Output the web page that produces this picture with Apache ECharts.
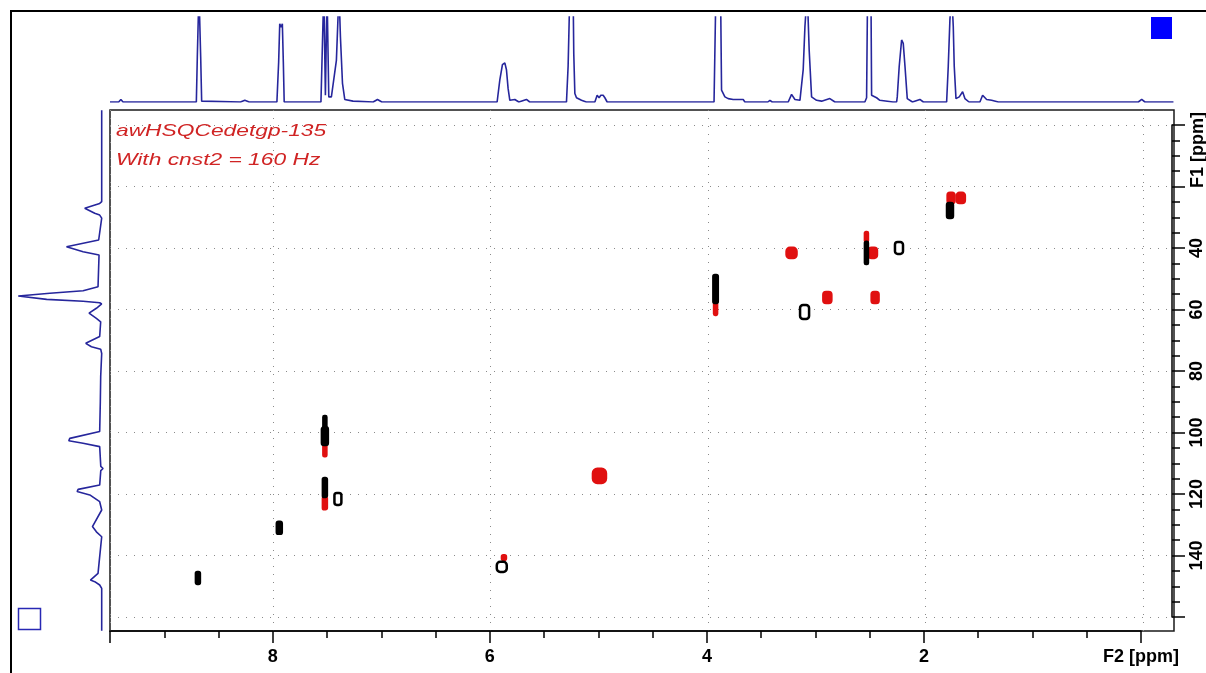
<!DOCTYPE html>
<html>
<head>
<meta charset="utf-8">
<script src="https://cdn.jsdelivr.net/npm/echarts@6/dist/echarts.min.js"></script>
<style>
html,body{margin:0;padding:0;background:#fff;}
#chart{width:1206px;height:673px;}
</style>
</head>
<body>
<div id="chart"></div>
<script>
// ---------- data ----------
// 2D cross peaks: [F2 ppm, F1 ppm, F2 extent (ppm), F1 extent (ppm)]
const positivePeaks = [
  [8.69, 147.3, 0.037, 3.9],
  [7.94, 131.0, 0.046, 3.9],
  [7.52, 99.3, 0.028, 9.4],
  [7.52, 101.2, 0.055, 5.8],
  [7.52, 117.9, 0.037, 6.2],
  [7.40, 121.6, 0.064, 3.9],
  [5.89, 143.7, 0.092, 3.3],
  [3.92, 53.3, 0.041, 9.1],
  [3.10, 60.8, 0.083, 4.6],
  [2.53, 41.6, 0.028, 7.2],
  [2.23, 40.0, 0.074, 3.9],
  [1.76, 27.8, 0.055, 4.9]
];
const negativePeaks = [
  [7.52, 105.9, 0.028, 3.6],
  [7.52, 123.0, 0.037, 3.9],
  [4.99, 114.1, 0.120, 4.6],
  [5.87, 140.7, 0.037, 1.5],
  [3.92, 59.8, 0.028, 3.9],
  [3.22, 41.6, 0.092, 3.3],
  [2.89, 56.1, 0.074, 3.6],
  [2.45, 56.1, 0.064, 3.6],
  [2.53, 36.4, 0.028, 3.2],
  [2.47, 41.6, 0.074, 3.3],
  [1.75, 23.7, 0.064, 3.3],
  [1.66, 23.7, 0.074, 3.3]
];
// 1H projection (top): [ppm, intensity]
const protonSpectrum = [
  [9.50,0],[9.42,0],[9.40,3],[9.38,0],[8.90,0],[8.706,0],[8.697,53],[8.682,130],[8.666,53],[8.657,1],
  [8.30,0],[8.26,2],[8.22,0],[7.965,0],[7.949,47],[7.939,92],[7.927,88],[7.915,92],[7.906,47],[7.898,0],
  [7.56,0],[7.546,2],[7.534,130],[7.519,8],[7.504,130],[7.488,6],[7.464,6],[7.418,49],[7.394,130],[7.381,77],
  [7.362,22],[7.341,3],[7.265,1],[7.08,0],[7.04,3],[7.00,0],[5.940,0],[5.915,26],[5.891,44],[5.869,46],
  [5.854,38],[5.839,16],[5.823,2],[5.777,3],[5.74,0],[5.67,3],[5.64,0],[5.302,0],[5.287,42],[5.271,130],
  [5.241,130],[5.235,57],[5.225,10],[5.210,5],[5.164,2],[5.12,0],[5.041,0],[5.020,8],[5.002,5],[4.986,8],
  [4.965,8],[4.949,5],[4.928,0],[3.945,0],[3.928,130],[3.885,130],[3.876,14],[3.845,6],[3.815,4],[3.799,5],
  [3.769,3],[3.677,3],[3.661,0],[3.45,0],[3.431,2],[3.41,0],[3.263,0],[3.232,9],[3.201,3],[3.155,2],
  [3.125,38],[3.109,89],[3.088,130],[3.070,61],[3.048,6],[3.002,2],[2.956,1],[2.880,4],[2.833,0],[2.558,0],
  [2.542,5],[2.533,130],[2.502,130],[2.496,8],[2.450,5],[2.420,2],[2.30,0],[2.266,0],[2.260,6],[2.242,42],
  [2.220,73],[2.205,69],[2.189,42],[2.168,4],[2.12,0],[2.052,3],[2.02,0],[1.806,0],[1.791,42],[1.776,96],
  [1.760,130],[1.745,89],[1.736,42],[1.720,4],[1.690,6],[1.659,12],[1.638,4],[1.60,0],[1.500,0],[1.475,8],
  [1.438,3],[1.392,2],[1.331,0],[0.043,0],[0.012,3],[-0.018,0],[-0.28,0]
];
// 13C projection (left): [intensity, F1 ppm]
const carbonSpectrum = [
  [0,-4.8],[0,24.9],[2.2,25.5],[18.5,27.1],[19.6,27.6],[7.6,28.7],[2.2,29.3],[0,30.3],[2,30.9],[3.3,37.4],
  [38.4,39.6],[39.5,40.1],[20.3,41.2],[2.9,42.3],[4,52.6],[20.3,53.9],[56.5,54.7],[91,55.6],[89,56.0],[60,56.7],
  [20.3,57.3],[2.2,57.8],[0,58.2],[5.8,59.6],[13.8,61.2],[5.8,62.9],[1.1,64.0],[2.2,68.8],[17.4,71.0],[11.2,72.1],
  [1.1,72.9],[0,74.3],[1.1,81.8],[1.5,90],[2.2,99.7],[34.8,101.9],[35.9,102.7],[20.3,103.5],[2.2,104.6],[1,111.0],
  [-1.5,111.7],[1,112.4],[2.2,117.1],[25.7,118.5],[26.8,119.2],[13,120.3],[2.2,122.5],[0,125.2],[10.1,130.6],[5.8,132.3],
  [0,133.9],[2.9,142.5],[4,145.8],[12.3,148.0],[7.6,148.5],[2.2,149.6],[0,150.7],[0,164.5]
];
const f2Ticks = { min: 0, max: 9.5, major: 2, minorSplit: 4 };
const f1Ticks = { min: 0, max: 160, major: 20, minorSplit: 4 };
const f1Labels = [40, 60, 80, 100, 120, 140];
const f2Labels = [8, 6, 4, 2];
const titleLines = ['awHSQCedetgp-135', 'With cnst2 = 160 Hz'];
const f2Name = 'F2 [ppm]';
const f1Name = 'F1 [ppm]';

// ---------- chart ----------
const chart = echarts.init(document.getElementById('chart'), null, { renderer: 'canvas' });
const dotted = { type: [1, 7], color: '#8a8a8a', width: 1 };
const labelFont = { color: '#000', fontWeight: 'bold', fontSize: 18, fontFamily: '"Liberation Sans", Arial, sans-serif' };
const specColor = '#26269c';

function peakRenderer(color, ring) {
  return function (params, api) {
    const cx = api.value(0), cy = api.value(1);
    const c = api.coord([cx, cy]);
    const s = api.size([api.value(2), api.value(3)], [cx, cy]);
    const w = Math.max(s[0], 3), h = Math.max(s[1], 3);
    const hollow = ring && w > 6.5 && h > 6;
    return {
      type: 'rect',
      shape: { x: c[0] - w / 2, y: c[1] - h / 2, width: w, height: h, r: Math.min(w, h) / 3 },
      style: { fill: hollow ? '#fff' : color, stroke: color, lineWidth: 2.5 }
    };
  };
}

const hidden = (gi, extra) => Object.assign({ gridIndex: gi, type: 'value', show: false }, extra || {});

const option = {
  animation: false,
  backgroundColor: '#fff',
  grid: [
    { left: 110, top: 125, right: 63, bottom: 56 },
    { left: 110, top: 125, right: 32, bottom: 56 },
    { left: 110, top: 110, right: 63, bottom: 42 },
    { left: 110, top: 17, right: 32, bottom: 571 },
    { left: 10, top: 110, right: 1104.3, bottom: 42 },
    { left: 110, top: 110, right: 32, bottom: 42, show: true, borderColor: '#1a1a1a', borderWidth: 1.5, backgroundColor: 'transparent' }
  ],
  xAxis: [
    {
      gridIndex: 0, type: 'value', min: f2Ticks.min, max: f2Ticks.max, inverse: true, interval: f2Ticks.major,
      position: 'bottom', offset: 14,
      axisLine: { show: true, onZero: false, lineStyle: { color: '#000', width: 1.5 } },
      axisTick: { show: true, length: 12, lineStyle: { color: '#000', width: 1.5 } },
      minorTick: { show: true, splitNumber: f2Ticks.minorSplit, length: 7, lineStyle: { color: '#000', width: 1.5 } },
      splitLine: { show: false },
      axisLabel: Object.assign({
        margin: 17,
        formatter: v => (v === 0 ? f2Name : (f2Labels.indexOf(v) >= 0 ? String(v) : ''))
      }, labelFont)
    },
    hidden(1, { min: 0, max: 1 }),
    {
      gridIndex: 2, type: 'value', min: f2Ticks.min, max: f2Ticks.max, inverse: true, interval: f2Ticks.major,
      axisLine: { show: false }, axisTick: { show: false }, axisLabel: { show: false },
      splitLine: { show: true, lineStyle: dotted }
    },
    hidden(3, { min: -0.285, max: 9.5, inverse: true }),
    hidden(4, { min: 0, max: 100, inverse: true }),
    hidden(5, { min: 0, max: 1 })
  ],
  yAxis: [
    {
      gridIndex: 0, type: 'value', min: f1Ticks.min, max: f1Ticks.max, inverse: true, interval: f1Ticks.major,
      position: 'right', offset: 31,
      axisLine: { show: true, onZero: false, lineStyle: { color: '#000', width: 1.5 } },
      axisTick: { show: true, length: 13, lineStyle: { color: '#000', width: 1.5 } },
      minorTick: { show: true, splitNumber: f1Ticks.minorSplit, length: 8, lineStyle: { color: '#000', width: 1.5 } },
      splitLine: { show: false },
      axisLabel: Object.assign({
        rotate: 90, margin: 16,
        formatter: v => (f1Labels.indexOf(v) >= 0 ? String(v) : '')
      }, labelFont)
    },
    {
      gridIndex: 1, type: 'value', min: f1Ticks.min, max: f1Ticks.max, inverse: true, interval: f1Ticks.major,
      axisLine: { show: false }, axisTick: { show: false }, axisLabel: { show: false },
      splitLine: { show: true, lineStyle: dotted }
    },
    hidden(2, { min: 0, max: 1 }),
    hidden(3, { min: 0, max: 100 }),
    hidden(4, { min: -4.88, max: 164.55, inverse: true }),
    hidden(5, { min: 0, max: 1 })
  ],
  series: [
    {
      type: 'line', xAxisIndex: 3, yAxisIndex: 3, data: protonSpectrum, showSymbol: false, clip: true,
      lineStyle: { color: specColor, width: 1.6 }, z: 3
    },
    {
      type: 'line', xAxisIndex: 4, yAxisIndex: 4, data: carbonSpectrum, showSymbol: false, clip: true,
      lineStyle: { color: specColor, width: 1.6 }, z: 3
    },
    {
      type: 'custom', xAxisIndex: 0, yAxisIndex: 0, data: positivePeaks, encode: { x: 0, y: 1 },
      renderItem: peakRenderer('#000', true), clip: false, z: 5
    },
    {
      type: 'custom', xAxisIndex: 0, yAxisIndex: 0, data: negativePeaks, encode: { x: 0, y: 1 },
      renderItem: peakRenderer('#e01010', false), clip: false, z: 4
    }
  ],
  graphic: [
    { type: 'rect', silent: true, z: 10, shape: { x: 11, y: 11, width: 1300, height: 700 }, style: { fill: 'none', stroke: '#000', lineWidth: 2 } },
    { type: 'rect', silent: true, z: 10, shape: { x: 1151, y: 17, width: 21, height: 22 }, style: { fill: '#0000ff' } },
    { type: 'rect', silent: true, z: 10, shape: { x: 18.5, y: 608.5, width: 22, height: 21 }, style: { fill: 'none', stroke: '#2828b4', lineWidth: 1.5 } },
    { type: 'text', silent: true, z: 10, x: 116, y: 123, scaleX: 1.34,
      style: { text: titleLines[0], font: 'italic 17px "Liberation Sans", Arial, sans-serif', fill: '#d02424', textAlign: 'left', textVerticalAlign: 'top', align: 'left', verticalAlign: 'top' } },
    { type: 'text', silent: true, z: 10, x: 116, y: 152, scaleX: 1.34,
      style: { text: titleLines[1], font: 'italic 17px "Liberation Sans", Arial, sans-serif', fill: '#d02424', textAlign: 'left', textVerticalAlign: 'top', align: 'left', verticalAlign: 'top' } },
    { type: 'text', silent: true, z: 10, x: 1198, y: 150, rotation: Math.PI / 2,
      style: { text: f1Name, font: 'bold 18px "Liberation Sans", Arial, sans-serif', fill: '#000', textAlign: 'center', textVerticalAlign: 'middle', align: 'center', verticalAlign: 'middle' } }
  ]
};
chart.setOption(option);
</script>
</body>
</html>
